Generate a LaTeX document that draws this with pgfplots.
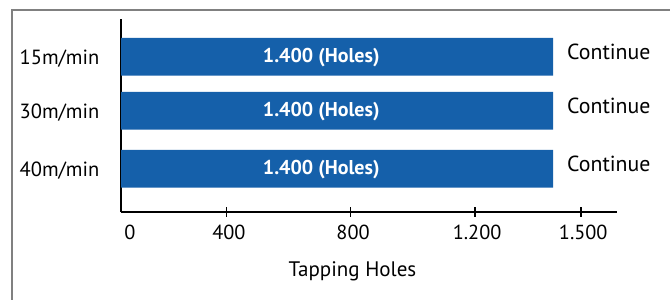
\documentclass[border=0pt]{standalone}
\usepackage{fontspec}
\setmainfont{PT Sans}
\usepackage{pgfplots}
\pgfplotsset{compat=1.18}
\definecolor{barblue}{HTML}{1560AA}
\definecolor{framegray}{HTML}{808080}
\newcommand\fs[1]{\fontsize{#1bp}{#1bp}\selectfont}
\begin{document}
\begin{tikzpicture}
\path[use as bounding box, clip] (0,0) rectangle (670bp,300bp);
\draw[framegray, line width=1.7bp] (12bp,-20bp) -- (12bp,290bp) -- (690bp,290bp);
\begin{axis}[
  at={(121bp,88bp)}, anchor=south west,
  scale only axis, width=496bp, height=193bp,
  xmin=0, xmax=1607, ymin=0, ymax=193,
  axis x line=bottom, axis y line=left,
  axis line style={-, black, line width=1.3bp},
  /pgf/number format/assume math mode=true,
  xtick={341.6,743.8,1145.7,1489.5},
  xticklabels={400,800,1.200,1.500},
  extra x ticks={21}, extra x tick labels={0},
  extra x tick style={grid=none, major tick style={draw=none}},
  tick align=center, major tick length=9bp,
  xtick style={black, line width=1.8bp},
  ytick={155.2,101.2,43.2}, yticklabels={15m/min,30m/min,40m/min},
  ytick style={draw=none},
  xticklabel style={font=\fs{20.3}, anchor=base, inner sep=0pt, xshift=2.5bp, yshift=-22.7bp},
  yticklabel style={font=\fs{20.5}, anchor=base east, inner sep=0pt, xshift=-17bp, yshift=-7.9bp},
  xlabel={Tapping Holes},
  xlabel style={font=\fs{21}, at={(axis description cs:0.4667,0)}, anchor=base, inner sep=0pt, yshift=-64bp},
  clip=false,
]
\addplot[xbar, bar width=37.7, fill=barblue, draw=none,
  nodes near coords={\bfseries 1.400 (Holes)},
  every node near coord/.append style={anchor=base, inner sep=0pt, xshift=-231.8bp, yshift=-5.9bp, text=white, font=\fs{20}}]
  coordinates {(1400,155.2) (1400,101.2) (1400,43.2)};
\addplot[draw=none, mark=none,
  nodes near coords={Continue},
  every node near coord/.append style={anchor=base west, inner sep=0pt, xshift=13.9bp, yshift=-2.7bp, text=black, font=\fs{21.8}}]
  coordinates {(1400,155.2) (1400,101.2) (1400,43.2)};
\end{axis}
\end{tikzpicture}
\end{document}
